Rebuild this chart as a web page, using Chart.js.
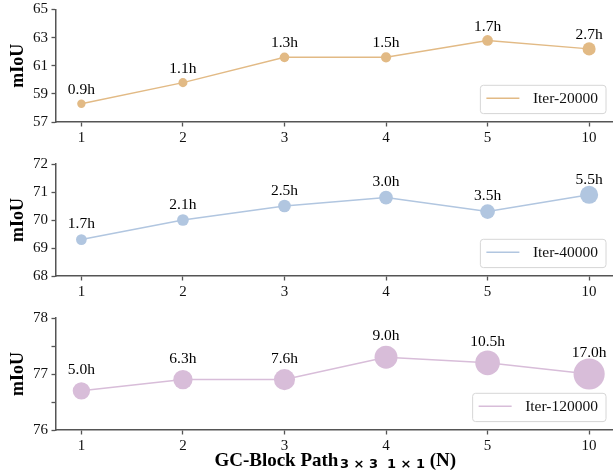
<!DOCTYPE html>
<html>
<head>
<meta charset="utf-8">
<script src="https://cdn.jsdelivr.net/npm/chart.js@4/dist/chart.umd.min.js"></script>
<style>
  html, body { margin: 0; padding: 0; background: #fff; overflow: hidden; width: 613px; height: 475px; }
  canvas { position: absolute; left: 0; }
</style>
</head>
<body>
<canvas id="p1" width="620" height="153" style="top:-3px"></canvas>
<canvas id="p2" width="620" height="154" style="top:150px"></canvas>
<canvas id="p3" width="620" height="175" style="top:300px"></canvas>
<script>
// GC-Block path count on the x axis
const xLabels = ['1', '2', '3', '4', '5', '10'];

// mIoU and training time (hours) per schedule
const miou20k = [58.3, 59.8, 61.6, 61.6, 62.8, 62.2];
const hours20k = [0.9, 1.1, 1.3, 1.5, 1.7, 2.7];

const miou40k = [69.3, 70.0, 70.5, 70.8, 70.3, 70.9];
const hours40k = [1.7, 2.1, 2.5, 3.0, 3.5, 5.5];

const miou120k = [76.7, 76.9, 76.9, 77.3, 77.2, 77.0];
const hours120k = [5.0, 6.3, 7.6, 9.0, 10.5, 17.0];

// y-axis ticks (panel three has unlabeled half steps)
const yTicks20k = [57, 59, 61, 63, 65];
const yTicks40k = [68, 69, 70, 71, 72];
const yTicks120k = [76, 76.5, 77, 77.5, 78];

const SERIF = "'Liberation Serif', 'Times New Roman', serif";
const SPINE = '#555555';
const TEXT = '#111111';

// marker area grows with training time
const radiusFor = h => Math.sqrt(5 + 14 * h);

const pointLabels = {
  id: 'pointLabels',
  afterDatasetsDraw(chart, args, opts) {
    const ctx = chart.ctx;
    const ds = chart.data.datasets[0];
    const yScale = chart.scales.y;
    const meta = chart.getDatasetMeta(0);
    ctx.save();
    ctx.font = '15.5px ' + SERIF;
    ctx.fillStyle = '#000';
    ctx.textAlign = 'center';
    ctx.textBaseline = 'alphabetic';
    meta.data.forEach((pt, i) => {
      const y = yScale.getPixelForValue(ds.data[i].y + opts.lift);
      ctx.fillText(ds.hours[i].toFixed(1) + 'h', pt.x, y);
    });
    ctx.restore();
  }
};

const cornerLegend = {
  id: 'cornerLegend',
  afterDraw(chart) {
    const ctx = chart.ctx;
    const ds = chart.data.datasets[0];
    const area = chart.chartArea;
    ctx.save();
    ctx.font = '15.5px ' + SERIF;
    const tw = ctx.measureText(ds.label).width;
    const w = 6 + 33 + 13.5 + tw + 8;
    const h = 28.3;
    const x = area.right - 8.5 - w;
    const y = area.bottom - 8.4 - h;
    ctx.beginPath();
    ctx.roundRect(x, y, w, h, 3);
    ctx.fillStyle = 'rgba(255,255,255,0.8)';
    ctx.fill();
    ctx.lineWidth = 1;
    ctx.strokeStyle = '#d6d6d6';
    ctx.stroke();
    const cy = y + h / 2 - 1.2;
    ctx.beginPath();
    ctx.moveTo(x + 6, cy);
    ctx.lineTo(x + 39, cy);
    ctx.strokeStyle = ds.borderColor;
    ctx.lineWidth = 1.5;
    ctx.stroke();
    ctx.fillStyle = TEXT;
    ctx.textAlign = 'left';
    ctx.textBaseline = 'middle';
    ctx.fillText(ds.label, x + 52.5, cy + 0.8);
    ctx.restore();
  }
};

const axisTitle = {
  id: 'axisTitle',
  afterDraw(chart, args, opts) {
    if (!opts.show) return;
    const ctx = chart.ctx;
    const area = chart.chartArea;
    const main = 'GC-Block Path';
    const sub1 = '3 × 3';
    const sub2 = '1 × 1';
    const tail = ' (N)';
    const mainFont = 'bold 19px ' + SERIF;
    const subFont = "bold 13px 'DejaVu Sans', sans-serif";
    ctx.save();
    ctx.font = mainFont;
    const wMain = ctx.measureText(main).width;
    const wTail = ctx.measureText(tail).width;
    ctx.font = subFont;
    const wS1 = ctx.measureText(sub1).width;
    const wS2 = ctx.measureText(sub2).width;
    const gap = 9;
    const total = wMain + 1.5 + wS1 + gap + wS2 + wTail;
    let x = (area.left + area.right) / 2 - total / 2;
    const base = opts.baseline;
    ctx.fillStyle = '#000';
    ctx.textAlign = 'left';
    ctx.textBaseline = 'alphabetic';
    ctx.font = mainFont;
    ctx.fillText(main, x, base);
    x += wMain + 1.5;
    ctx.font = subFont;
    ctx.fillText(sub1, x, base + 1.7);
    x += wS1 + gap;
    ctx.fillText(sub2, x, base + 1.7);
    x += wS2;
    ctx.font = mainFont;
    ctx.fillText(tail, x, base);
    ctx.restore();
  }
};

function makePanel(id, cfg) {
  const tickFont = { family: SERIF, size: 15 };
  return new Chart(document.getElementById(id), {
    type: 'line',
    data: {
      datasets: [{
        label: cfg.label,
        data: cfg.values.map((v, i) => ({ x: i, y: v })),
        hours: cfg.hours,
        borderColor: cfg.color,
        backgroundColor: cfg.color,
        borderWidth: 1.5,
        pointRadius: cfg.hours.map(radiusFor),
        pointHoverRadius: cfg.hours.map(radiusFor),
        pointBorderWidth: 0,
        tension: 0,
        clip: false
      }]
    },
    options: {
      responsive: false,
      animation: false,
      events: [],
      layout: { autoPadding: false, padding: { top: cfg.padTop, right: 5.5, left: 0, bottom: 0 } },
      plugins: {
        legend: { display: false },
        tooltip: { enabled: false },
        pointLabels: { lift: cfg.lift },
        axisTitle: { show: !!cfg.title, baseline: cfg.titleBaseline }
      },
      scales: {
        x: {
          type: 'linear',
          min: -0.25,
          max: 5.25,
          afterBuildTicks: s => { s.ticks = xLabels.map((_, i) => ({ value: i })); },
          afterFit: s => { s.height = cfg.xAxisHeight; },
          ticks: {
            callback: v => xLabels[v],
            font: tickFont,
            color: TEXT,
            padding: 2.5,
            autoSkip: false,
            maxRotation: 0
          },
          grid: { display: true, drawOnChartArea: false, drawTicks: true, tickLength: 4.5, tickColor: SPINE, tickWidth: 1.3 },
          border: { display: true, color: SPINE, width: 1.5 }
        },
        y: {
          min: cfg.yTicks[0],
          max: cfg.yTicks[cfg.yTicks.length - 1],
          afterBuildTicks: s => { s.ticks = cfg.yTicks.map(v => ({ value: v })); },
          afterFit: s => { s.width = 56; },
          ticks: {
            callback: v => (Number.isInteger(v) ? String(v) : ''),
            font: tickFont,
            color: TEXT,
            padding: 3.5
          },
          title: {
            display: true,
            text: 'mIoU',
            font: { family: SERIF, size: 18, weight: 'bold' },
            color: '#000',
            padding: { top: 7.5, bottom: 0 }
          },
          grid: { display: true, drawOnChartArea: false, drawTicks: true, tickLength: 4.5, tickColor: SPINE, tickWidth: 1.3 },
          border: { display: true, color: SPINE, width: 1.5 }
        }
      }
    },
    plugins: [pointLabels, cornerLegend, axisTitle]
  });
}

makePanel('p1', {
  label: 'Iter-20000', values: miou20k, hours: hours20k, color: '#e2ba85',
  yTicks: yTicks20k, lift: 0.7, padTop: 12.5, xAxisHeight: 28
});
makePanel('p2', {
  label: 'Iter-40000', values: miou40k, hours: hours40k, color: '#b1c6e0',
  yTicks: yTicks40k, lift: 0.4, padTop: 14, xAxisHeight: 28
});
makePanel('p3', {
  label: 'Iter-120000', values: miou120k, hours: hours120k, color: '#d8bdd9',
  yTicks: yTicks120k, lift: 0.3, padTop: 18, xAxisHeight: 45,
  title: true, titleBaseline: 166
});
</script>
</body>
</html>
